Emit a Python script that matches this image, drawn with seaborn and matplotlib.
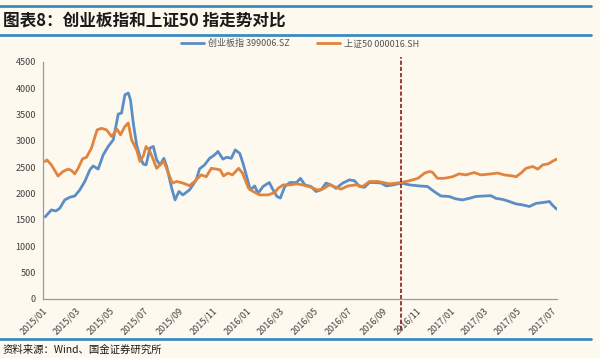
import matplotlib
matplotlib.use("Agg")
import matplotlib.pyplot as plt
import matplotlib.dates as mdates
import seaborn as sns
import pandas as pd

# ---- data ----
cyb_dates = ["2015-01-05","2015-01-16","2015-01-24","2015-01-31","2015-02-09","2015-02-18","2015-02-27",
             "2015-03-08","2015-03-17","2015-03-26","2015-04-01","2015-04-10","2015-04-19","2015-04-28",
             "2015-05-07","2015-05-13","2015-05-16","2015-05-22","2015-05-28","2015-06-03","2015-06-07",
             "2015-06-12","2015-06-18","2015-06-24","2015-06-30","2015-07-05","2015-07-12","2015-07-18",
             "2015-07-24","2015-07-30","2015-08-06","2015-08-11","2015-08-20","2015-08-26","2015-09-02",
             "2015-09-09","2015-09-21","2015-10-03","2015-10-09","2015-10-18","2015-10-27","2015-11-05",
             "2015-11-11","2015-11-20","2015-11-27","2015-12-05","2015-12-12","2015-12-20","2015-12-26",
             "2016-01-04","2016-01-08","2016-01-16","2016-01-22","2016-01-31","2016-02-11","2016-02-18",
             "2016-02-25","2016-03-02","2016-03-10","2016-03-19","2016-03-31","2016-04-07","2016-04-15",
             "2016-04-26","2016-05-05","2016-05-14","2016-05-23","2016-06-01","2016-06-10","2016-06-22",
             "2016-07-04","2016-07-13","2016-07-22","2016-07-31","2016-08-09","2016-08-18","2016-08-30",
             "2016-09-08","2016-09-20","2016-10-05","2016-10-20","2016-11-07","2016-11-21","2016-12-03",
             "2016-12-15","2016-12-30","2017-01-11","2017-01-23","2017-02-04","2017-02-16","2017-03-03",
             "2017-03-15","2017-03-24","2017-04-05","2017-04-17","2017-04-29","2017-05-11","2017-05-23",
             "2017-06-04","2017-06-16","2017-06-28","2017-07-03","2017-07-11"]
cyb_values = [1560,1690,1670,1720,1880,1930,1955,
              2070,2230,2450,2525,2465,2735,2895,
              3020,3340,3510,3530,3875,3910,3780,
              3340,2925,2700,2560,2545,2865,2895,
              2640,2545,2670,2515,2100,1880,2040,
              1975,2070,2260,2470,2545,2670,2735,
              2800,2655,2690,2670,2830,2765,2575,
              2230,2070,2145,2005,2135,2210,2070,
              1945,1915,2135,2210,2210,2290,2165,
              2135,2040,2070,2200,2165,2100,2200,
              2260,2245,2135,2120,2210,2210,2200,
              2145,2165,2200,2165,2145,2135,2040,
              1955,1945,1900,1880,1910,1945,1955,
              1960,1910,1890,1850,1805,1785,1755,
              1815,1830,1850,1785,1705]

sz50_dates = ["2015-01-05","2015-01-08","2015-01-16","2015-01-28","2015-02-06","2015-02-15","2015-02-21",
              "2015-02-27","2015-03-05","2015-03-13","2015-03-20","2015-03-29","2015-04-08","2015-04-16",
              "2015-04-25","2015-05-04","2015-05-14","2015-05-20","2015-05-28","2015-06-03","2015-06-09",
              "2015-06-18","2015-06-24","2015-06-30","2015-07-05","2015-07-12","2015-07-18","2015-07-24",
              "2015-07-30","2015-08-06","2015-08-14","2015-08-21","2015-08-29","2015-09-09","2015-09-21",
              "2015-09-30","2015-10-08","2015-10-12","2015-10-21","2015-10-30","2015-11-08","2015-11-15",
              "2015-11-21","2015-11-29","2015-12-07","2015-12-18","2015-12-25","2016-01-05","2016-01-13",
              "2016-01-25","2016-02-09","2016-02-21","2016-02-27","2016-03-07","2016-03-19","2016-03-31",
              "2016-04-11","2016-04-26","2016-05-08","2016-05-17","2016-05-29","2016-06-10","2016-06-19",
              "2016-07-01","2016-07-16","2016-07-28","2016-08-09","2016-08-24","2016-09-02","2016-09-14",
              "2016-10-05","2016-10-20","2016-11-04","2016-11-16","2016-11-25","2016-11-30","2016-12-09",
              "2016-12-21","2017-01-05","2017-01-17","2017-01-29","2017-02-13","2017-02-25","2017-03-12",
              "2017-03-27","2017-04-08","2017-04-23","2017-04-29","2017-05-08","2017-05-17","2017-05-29",
              "2017-06-07","2017-06-16","2017-06-26","2017-07-03","2017-07-11"]
sz50_values = [2610,2640,2545,2335,2420,2465,2440,
               2375,2480,2660,2690,2865,3210,3240,
               3210,3085,3220,3115,3275,3340,3020,
               2830,2610,2715,2895,2800,2640,2480,
               2545,2610,2390,2200,2230,2200,2150,
               2230,2315,2355,2320,2480,2465,2450,
               2335,2390,2355,2480,2390,2100,2040,
               1975,1975,2020,2100,2165,2165,2185,
               2165,2120,2070,2085,2165,2120,2085,
               2145,2165,2135,2230,2230,2210,2185,
               2210,2245,2290,2390,2420,2405,2290,
               2290,2320,2375,2355,2400,2355,2370,
               2390,2355,2335,2320,2390,2480,2515,
               2465,2545,2565,2610,2655]

series_names = ["创业板指 399006.SZ", "上证50 000016.SH"]
y_ticks = [0, 500, 1000, 1500, 2000, 2500, 3000, 3500, 4000, 4500]
event_date = "2016-10-05"
title = "图表8：创业板指和上证50 指走势对比"
source = "资料来源：Wind、国金证券研究所"

# ---- build frame ----
df = pd.concat([
    pd.DataFrame({"date": pd.to_datetime(cyb_dates), "value": cyb_values, "series": series_names[0]}),
    pd.DataFrame({"date": pd.to_datetime(sz50_dates), "value": sz50_values, "series": series_names[1]}),
], ignore_index=True)

sns.set_theme(style="white")
plt.rcParams["font.family"] = ["Noto Sans CJK SC", "DejaVu Sans"]
bg = "#fdf9ef"

fig = plt.figure(figsize=(6, 3.58), dpi=100, facecolor=bg)
ax = fig.add_axes([0.0717, 0.165, 0.857, 0.662], facecolor=bg)

palette = {series_names[0]: "#5b8ec6", series_names[1]: "#e0843e"}
sns.lineplot(data=df, x="date", y="value", hue="series", palette=palette,
             linewidth=2.0, ax=ax, legend=False)

ax.set_xlim(pd.Timestamp("2015-01-01"), pd.Timestamp("2017-07-12"))
ax.set_ylim(0, 4500)
ax.set_yticks(y_ticks)
ax.set_xlabel("")
ax.set_ylabel("")

ax.xaxis.set_major_locator(mdates.MonthLocator(bymonth=[1, 3, 5, 7, 9, 11]))
ax.xaxis.set_major_formatter(mdates.DateFormatter("%Y/%m"))
for lab in ax.get_xticklabels():
    lab.set_rotation(45)
    lab.set_ha("right")
    lab.set_rotation_mode("anchor")

ax.tick_params(axis="both", which="major", labelsize=6.5, colors="#555555",
               length=3, width=0.8, direction="out", pad=2)
ax.tick_params(axis="x", labelcolor="#404040")
ax.tick_params(axis="y", labelcolor="#404040")
for s in ["top", "right"]:
    ax.spines[s].set_visible(False)
for s in ["left", "bottom"]:
    ax.spines[s].set_color("#9a9a9a")
    ax.spines[s].set_linewidth(0.9)

# event line
ax.axvline(pd.Timestamp(event_date), ymin=-0.13, ymax=1.02, color="#8b1a1a",
           linestyle=(0, (2.5, 1.2)), linewidth=1.2, clip_on=False)

# legend
from matplotlib.lines import Line2D
handles = [Line2D([0], [0], color=palette[n], lw=2) for n in series_names]
fig.legend(handles, series_names, loc="center", bbox_to_anchor=(0.5, 0.878),
           ncol=2, frameon=False, fontsize=6.5, handlelength=2.6,
           columnspacing=3.0, handletextpad=0.4, labelcolor="#555555")

# title and rules
rule_color = "#3a8cc0"
fig.add_artist(Line2D([0.0, 0.985], [0.983, 0.983], color=rule_color, lw=2, transform=fig.transFigure))
fig.add_artist(Line2D([0.0, 0.985], [0.903, 0.903], color=rule_color, lw=2, transform=fig.transFigure))
fig.add_artist(Line2D([0.0, 0.985], [0.052, 0.052], color=rule_color, lw=2, transform=fig.transFigure))
fig.text(0.005, 0.943, title, fontsize=12, fontweight="bold", style="italic",
         va="center", ha="left", color="#1a1a1a")
fig.text(0.005, 0.022, source, fontsize=7.5, va="center", ha="left", color="#1a1a1a")

fig.savefig("out.png", dpi=100, facecolor=bg)
